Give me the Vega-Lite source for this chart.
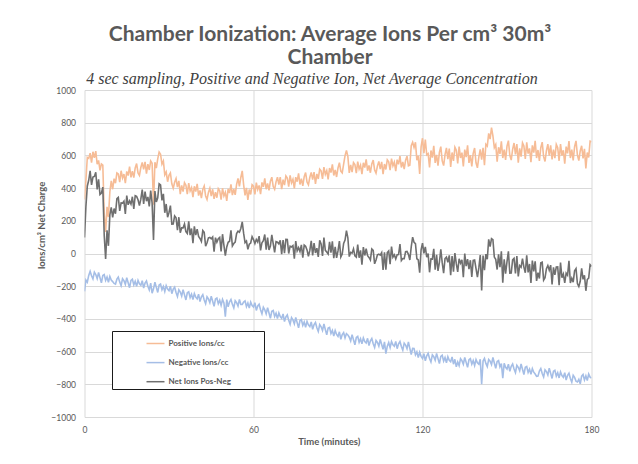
{
  "$schema": "https://vega.github.io/schema/vega-lite/v6.json",
  "width": 507,
  "height": 327,
  "autosize": "none",
  "padding": {"left": 84.5, "top": 90, "right": 46.5, "bottom": 47},
  "background": "#ffffff",
  "title": {
    "text": ["Chamber Ionization: Average Ions Per cm³ 30m³", "Chamber"],
    "subtitle": "4 sec sampling, Positive and Negative Ion, Net Average Concentration\u2800\u2800\u2800",
    "anchor": "middle",
    "frame": "group",
    "dx": -8,
    "font": "Lato",
    "fontSize": 21,
    "fontWeight": "bold",
    "color": "#595959",
    "lineHeight": 23,
    "subtitleFont": "Liberation Serif",
    "subtitleFontStyle": "italic",
    "subtitleFontSize": 16,
    "subtitleColor": "#404040",
    "subtitlePadding": 3,
    "offset": -1
  },
  "data": {"values": [
{"t":0,"p":330,"n":-232,"d":98},{"t":0.5,"p":449,"n":-162,"d":287},{"t":1,"p":588,"n":-175,"d":413},{"t":1.5,"p":582,"n":-134,"d":448},{"t":2,"p":614,"n":-109,"d":505},{"t":2.5,"p":556,"n":-136,"d":420},{"t":3,"p":622,"n":-155,"d":467},{"t":3.5,"p":585,"n":-114,"d":471},{"t":4,"p":626,"n":-129,"d":497},{"t":4.5,"p":546,"n":-154,"d":392},
{"t":5,"p":569,"n":-116,"d":453},{"t":5.5,"p":509,"n":-148,"d":361},{"t":6,"p":548,"n":-179,"d":369},{"t":6.5,"p":541,"n":-135,"d":406},{"t":7,"p":241,"n":-129,"d":112},{"t":7.5,"p":132,"n":-165,"d":-33},{"t":8,"p":286,"n":-144,"d":142},{"t":8.5,"p":223,"n":-176,"d":47},{"t":9,"p":376,"n":-140,"d":236},{"t":9.5,"p":444,"n":-162,"d":282},
{"t":10,"p":393,"n":-172,"d":221},{"t":10.5,"p":458,"n":-183,"d":275},{"t":11,"p":430,"n":-187,"d":243},{"t":11.5,"p":493,"n":-157,"d":336},{"t":12,"p":487,"n":-144,"d":343},{"t":12.5,"p":436,"n":-175,"d":261},{"t":13,"p":506,"n":-197,"d":309},{"t":13.5,"p":462,"n":-154,"d":308},{"t":14,"p":486,"n":-166,"d":320},{"t":14.5,"p":431,"n":-189,"d":242},
{"t":15,"p":502,"n":-148,"d":354},{"t":15.5,"p":477,"n":-179,"d":298},{"t":16,"p":531,"n":-209,"d":322},{"t":16.5,"p":466,"n":-164,"d":302},{"t":17,"p":504,"n":-157,"d":347},{"t":17.5,"p":464,"n":-192,"d":272},{"t":18,"p":523,"n":-170,"d":353},{"t":18.5,"p":550,"n":-201,"d":349},{"t":19,"p":493,"n":-164,"d":329},{"t":19.5,"p":478,"n":-185,"d":293},
{"t":20,"p":526,"n":-194,"d":332},{"t":20.5,"p":557,"n":-166,"d":391},{"t":21,"p":514,"n":-211,"d":303},{"t":21.5,"p":560,"n":-181,"d":379},{"t":22,"p":488,"n":-168,"d":320},{"t":22.5,"p":546,"n":-200,"d":346},{"t":23,"p":511,"n":-223,"d":288},{"t":23.5,"p":566,"n":-181,"d":385},{"t":24,"p":552,"n":-243,"d":309},{"t":24.5,"p":299,"n":-216,"d":83},
{"t":25,"p":558,"n":-176,"d":382},{"t":25.5,"p":522,"n":-207,"d":315},{"t":26,"p":579,"n":-238,"d":341},{"t":26.5,"p":620,"n":-193,"d":427},{"t":27,"p":607,"n":-187,"d":420},{"t":27.5,"p":547,"n":-222,"d":325},{"t":28,"p":566,"n":-201,"d":365},{"t":28.5,"p":481,"n":-232,"d":249},{"t":29,"p":499,"n":-196,"d":303},{"t":29.5,"p":439,"n":-217,"d":222},
{"t":30,"p":478,"n":-227,"d":251},{"t":30.5,"p":493,"n":-200,"d":293},{"t":31,"p":426,"n":-246,"d":180},{"t":31.5,"p":399,"n":-218,"d":181},{"t":32,"p":436,"n":-206,"d":230},{"t":32.5,"p":458,"n":-239,"d":219},{"t":33,"p":406,"n":-263,"d":143},{"t":33.5,"p":444,"n":-222,"d":222},{"t":34,"p":363,"n":-236,"d":127},{"t":34.5,"p":417,"n":-260,"d":157},
{"t":35,"p":378,"n":-221,"d":157},{"t":35.5,"p":433,"n":-253,"d":180},{"t":36,"p":418,"n":-284,"d":134},{"t":36.5,"p":363,"n":-240,"d":123},{"t":37,"p":430,"n":-234,"d":196},{"t":37.5,"p":382,"n":-270,"d":112},{"t":38,"p":402,"n":-249,"d":153},{"t":38.5,"p":344,"n":-281,"d":63},{"t":39,"p":411,"n":-245,"d":166},{"t":39.5,"p":379,"n":-267,"d":112},
{"t":40,"p":426,"n":-277,"d":149},{"t":40.5,"p":354,"n":-249,"d":105},{"t":41,"p":386,"n":-294,"d":92},{"t":41.5,"p":339,"n":-265,"d":74},{"t":42,"p":392,"n":-252,"d":140},{"t":42.5,"p":413,"n":-284,"d":129},{"t":43,"p":352,"n":-307,"d":45},{"t":43.5,"p":331,"n":-265,"d":66},{"t":44,"p":374,"n":-278,"d":96},{"t":44.5,"p":399,"n":-301,"d":98},
{"t":45,"p":351,"n":-261,"d":90},{"t":45.5,"p":393,"n":-292,"d":101},{"t":46,"p":334,"n":-323,"d":11},{"t":46.5,"p":375,"n":-278,"d":97},{"t":47,"p":341,"n":-272,"d":69},{"t":47.5,"p":397,"n":-307,"d":90},{"t":48,"p":384,"n":-286,"d":98},{"t":48.5,"p":330,"n":-317,"d":13},{"t":49,"p":399,"n":-281,"d":118},{"t":49.5,"p":352,"n":-302,"d":50},
{"t":50,"p":374,"n":-387,"d":-13},{"t":50.5,"p":322,"n":-282,"d":40},{"t":51,"p":395,"n":-326,"d":69},{"t":51.5,"p":370,"n":-295,"d":75},{"t":52,"p":423,"n":-281,"d":142},{"t":52.5,"p":357,"n":-311,"d":46},{"t":53,"p":394,"n":-333,"d":61},{"t":53.5,"p":359,"n":-289,"d":70},{"t":54,"p":423,"n":-301,"d":122},{"t":54.5,"p":459,"n":-322,"d":137},
{"t":55,"p":411,"n":-281,"d":130},{"t":55.5,"p":465,"n":-312,"d":153},{"t":56,"p":505,"n":-312,"d":193},{"t":56.5,"p":420,"n":-297,"d":123},{"t":57,"p":356,"n":-290,"d":66},{"t":57.5,"p":401,"n":-325,"d":76},{"t":58,"p":328,"n":-303,"d":25},{"t":58.5,"p":391,"n":-334,"d":57},{"t":59,"p":361,"n":-297,"d":64},{"t":59.5,"p":421,"n":-318,"d":103},
{"t":60,"p":412,"n":-327,"d":85},{"t":60.5,"p":362,"n":-301,"d":61},{"t":61,"p":434,"n":-348,"d":86},{"t":61.5,"p":391,"n":-321,"d":70},{"t":62,"p":416,"n":-310,"d":106},{"t":62.5,"p":363,"n":-344,"d":19},{"t":63,"p":435,"n":-369,"d":66},{"t":63.5,"p":408,"n":-329,"d":79},{"t":64,"p":460,"n":-344,"d":116},{"t":64.5,"p":393,"n":-369,"d":24},
{"t":65,"p":429,"n":-331,"d":98},{"t":65.5,"p":386,"n":-364,"d":22},{"t":66,"p":442,"n":-396,"d":46},{"t":66.5,"p":467,"n":-353,"d":114},{"t":67,"p":409,"n":-348,"d":61},{"t":67.5,"p":392,"n":-385,"d":7},{"t":68,"p":438,"n":-365,"d":73},{"t":68.5,"p":467,"n":-398,"d":69},{"t":69,"p":422,"n":-363,"d":59},{"t":69.5,"p":467,"n":-386,"d":81},
{"t":70,"p":393,"n":-397,"d":-4},{"t":70.5,"p":452,"n":-370,"d":82},{"t":71,"p":418,"n":-416,"d":2},{"t":71.5,"p":475,"n":-388,"d":87},{"t":72,"p":462,"n":-376,"d":86},{"t":72.5,"p":409,"n":-409,"d":0},{"t":73,"p":478,"n":-433,"d":45},{"t":73.5,"p":432,"n":-392,"d":40},{"t":74,"p":454,"n":-406,"d":48},{"t":74.5,"p":398,"n":-430,"d":-32},
{"t":75,"p":467,"n":-391,"d":76},{"t":75.5,"p":439,"n":-423,"d":16},{"t":76,"p":490,"n":-454,"d":36},{"t":76.5,"p":422,"n":-410,"d":12},{"t":77,"p":457,"n":-404,"d":53},{"t":77.5,"p":414,"n":-440,"d":-26},{"t":78,"p":470,"n":-419,"d":51},{"t":78.5,"p":495,"n":-451,"d":44},{"t":79,"p":437,"n":-415,"d":22},{"t":79.5,"p":420,"n":-437,"d":-17},
{"t":80,"p":466,"n":-447,"d":19},{"t":80.5,"p":496,"n":-419,"d":77},{"t":81,"p":452,"n":-464,"d":-12},{"t":81.5,"p":498,"n":-435,"d":63},{"t":82,"p":425,"n":-422,"d":3},{"t":82.5,"p":487,"n":-454,"d":33},{"t":83,"p":456,"n":-477,"d":-21},{"t":83.5,"p":516,"n":-435,"d":81},{"t":84,"p":506,"n":-448,"d":58},{"t":84.5,"p":456,"n":-471,"d":-15},
{"t":85,"p":528,"n":-431,"d":97},{"t":85.5,"p":484,"n":-465,"d":19},{"t":86,"p":507,"n":-498,"d":9},{"t":86.5,"p":453,"n":-456,"d":-3},{"t":87,"p":523,"n":-452,"d":71},{"t":87.5,"p":495,"n":-490,"d":5},{"t":88,"p":545,"n":-471,"d":74},{"t":88.5,"p":477,"n":-505,"d":-28},{"t":89,"p":511,"n":-471,"d":40},{"t":89.5,"p":468,"n":-495,"d":-27},
{"t":90,"p":523,"n":-507,"d":16},{"t":90.5,"p":555,"n":-479,"d":76},{"t":91,"p":504,"n":-525,"d":-21},{"t":91.5,"p":493,"n":-496,"d":-3},{"t":92,"p":546,"n":-484,"d":62},{"t":92.5,"p":598,"n":-516,"d":82},{"t":93,"p":630,"n":-490,"d":140},{"t":93.5,"p":594,"n":-498,"d":96},{"t":94,"p":493,"n":-512,"d":-19},{"t":94.5,"p":542,"n":-535,"d":7},
{"t":95,"p":498,"n":-496,"d":2},{"t":95.5,"p":556,"n":-528,"d":28},{"t":96,"p":544,"n":-558,"d":-14},{"t":96.5,"p":492,"n":-514,"d":-22},{"t":97,"p":562,"n":-507,"d":55},{"t":97.5,"p":517,"n":-543,"d":-26},{"t":98,"p":540,"n":-521,"d":19},{"t":98.5,"p":485,"n":-553,"d":-68},{"t":99,"p":555,"n":-516,"d":39},{"t":99.5,"p":526,"n":-538,"d":-12},
{"t":100,"p":576,"n":-547,"d":29},{"t":100.5,"p":506,"n":-519,"d":-13},{"t":101,"p":539,"n":-563,"d":-24},{"t":101.5,"p":494,"n":-534,"d":-40},{"t":102,"p":548,"n":-520,"d":28},{"t":102.5,"p":571,"n":-552,"d":19},{"t":103,"p":511,"n":-574,"d":-63},{"t":103.5,"p":492,"n":-532,"d":-40},{"t":104,"p":536,"n":-544,"d":-8},{"t":104.5,"p":563,"n":-567,"d":-4},
{"t":105,"p":516,"n":-526,"d":-10},{"t":105.5,"p":561,"n":-556,"d":5},{"t":106,"p":486,"n":-586,"d":-100},{"t":106.5,"p":547,"n":-540,"d":7},{"t":107,"p":514,"n":-613,"d":-99},{"t":107.5,"p":573,"n":-567,"d":6},{"t":108,"p":561,"n":-545,"d":16},{"t":108.5,"p":510,"n":-575,"d":-65},{"t":109,"p":580,"n":-538,"d":42},{"t":109.5,"p":536,"n":-558,"d":-22},
{"t":110,"p":559,"n":-567,"d":-8},{"t":110.5,"p":504,"n":-538,"d":-34},{"t":111,"p":574,"n":-582,"d":-8},{"t":111.5,"p":545,"n":-552,"d":-7},{"t":112,"p":595,"n":-538,"d":57},{"t":112.5,"p":526,"n":-569,"d":-43},{"t":113,"p":560,"n":-591,"d":-31},{"t":113.5,"p":516,"n":-548,"d":-32},{"t":114,"p":571,"n":-560,"d":11},{"t":114.5,"p":595,"n":-582,"d":13},
{"t":115,"p":536,"n":-541,"d":-5},{"t":115.5,"p":540,"n":-580,"d":-40},{"t":116,"p":659,"n":-618,"d":41},{"t":116.5,"p":680,"n":-580,"d":100},{"t":117,"p":649,"n":-581,"d":68},{"t":117.5,"p":680,"n":-620,"d":60},{"t":118,"p":570,"n":-602,"d":-32},{"t":118.5,"p":598,"n":-637,"d":-39},{"t":119,"p":487,"n":-604,"d":-117},{"t":119.5,"p":652,"n":-629,"d":23},
{"t":120,"p":705,"n":-642,"d":63},{"t":120.5,"p":614,"n":-613,"d":1},{"t":121,"p":697,"n":-656,"d":41},{"t":121.5,"p":603,"n":-626,"d":-23},{"t":122,"p":611,"n":-611,"d":0},{"t":122.5,"p":527,"n":-642,"d":-115},{"t":123,"p":630,"n":-663,"d":-33},{"t":123.5,"p":586,"n":-620,"d":-34},{"t":124,"p":659,"n":-631,"d":28},{"t":124.5,"p":554,"n":-653,"d":-99},
{"t":125,"p":603,"n":-611,"d":-8},{"t":125.5,"p":537,"n":-643,"d":-106},{"t":126,"p":619,"n":-673,"d":-54},{"t":126.5,"p":654,"n":-629,"d":25},{"t":127,"p":566,"n":-622,"d":-56},{"t":127.5,"p":538,"n":-658,"d":-120},{"t":128,"p":605,"n":-636,"d":-31},{"t":128.5,"p":646,"n":-668,"d":-22},{"t":129,"p":577,"n":-631,"d":-54},{"t":129.5,"p":642,"n":-653,"d":-11},
{"t":130,"p":530,"n":-662,"d":-132},{"t":130.5,"p":618,"n":-633,"d":-15},{"t":131,"p":566,"n":-677,"d":-111},{"t":131.5,"p":650,"n":-647,"d":3},{"t":132,"p":631,"n":-693,"d":-62},{"t":132.5,"p":551,"n":-664,"d":-113},{"t":133,"p":654,"n":-686,"d":-32},{"t":133.5,"p":584,"n":-643,"d":-59},{"t":134,"p":617,"n":-655,"d":-38},{"t":134.5,"p":532,"n":-677,"d":-145},
{"t":135,"p":635,"n":-636,"d":-1},{"t":135.5,"p":589,"n":-666,"d":-77},{"t":136,"p":661,"n":-696,"d":-35},{"t":136.5,"p":554,"n":-650,"d":-96},{"t":137,"p":602,"n":-643,"d":-41},{"t":137.5,"p":533,"n":-677,"d":-144},{"t":138,"p":613,"n":-655,"d":-42},{"t":138.5,"p":645,"n":-685,"d":-40},{"t":139,"p":555,"n":-648,"d":-93},{"t":139.5,"p":524,"n":-668,"d":-144},
{"t":140,"p":589,"n":-677,"d":-88},{"t":140.5,"p":637,"n":-647,"d":-10},{"t":141,"p":574,"n":-800,"d":-226},{"t":141.5,"p":646,"n":-658,"d":-12},{"t":142,"p":540,"n":-642,"d":-102},{"t":142.5,"p":668,"n":-672,"d":-4},{"t":143,"p":657,"n":-692,"d":-35},{"t":143.5,"p":735,"n":-648,"d":87},{"t":144,"p":700,"n":-658,"d":42},{"t":144.5,"p":770,"n":-679,"d":91},
{"t":145,"p":720,"n":-636,"d":84},{"t":145.5,"p":648,"n":-670,"d":-22},{"t":146,"p":666,"n":-702,"d":-36},{"t":146.5,"p":562,"n":-660,"d":-98},{"t":147,"p":650,"n":-655,"d":-5},{"t":147.5,"p":609,"n":-693,"d":-84},{"t":148,"p":686,"n":-673,"d":13},{"t":148.5,"p":584,"n":-762,"d":-178},{"t":149,"p":636,"n":-672,"d":-36},{"t":149.5,"p":573,"n":-696,"d":-123},
{"t":150,"p":657,"n":-707,"d":-50},{"t":150.5,"p":690,"n":-677,"d":13},{"t":151,"p":601,"n":-721,"d":-120},{"t":151.5,"p":571,"n":-690,"d":-119},{"t":152,"p":637,"n":-676,"d":-39},{"t":152.5,"p":676,"n":-706,"d":-30},{"t":153,"p":606,"n":-728,"d":-122},{"t":153.5,"p":669,"n":-684,"d":-15},{"t":154,"p":556,"n":-696,"d":-140},{"t":154.5,"p":643,"n":-717,"d":-74},
{"t":155,"p":592,"n":-676,"d":-84},{"t":155.5,"p":677,"n":-708,"d":-31},{"t":156,"p":657,"n":-740,"d":-83},{"t":156.5,"p":578,"n":-696,"d":-118},{"t":157,"p":680,"n":-691,"d":-11},{"t":157.5,"p":611,"n":-727,"d":-116},{"t":158,"p":643,"n":-707,"d":-64},{"t":158.5,"p":559,"n":-739,"d":-180},{"t":159,"p":661,"n":-704,"d":-43},{"t":159.5,"p":617,"n":-726,"d":-109},
{"t":160,"p":689,"n":-737,"d":-48},{"t":160.5,"p":584,"n":-752,"d":-168},{"t":161,"p":633,"n":-750,"d":-117},{"t":161.5,"p":566,"n":-719,"d":-153},{"t":162,"p":647,"n":-704,"d":-57},{"t":162.5,"p":681,"n":-734,"d":-53},{"t":163,"p":592,"n":-755,"d":-163},{"t":163.5,"p":563,"n":-711,"d":-148},{"t":164,"p":629,"n":-722,"d":-93},{"t":164.5,"p":669,"n":-743,"d":-74},
{"t":165,"p":599,"n":-701,"d":-102},{"t":165.5,"p":662,"n":-733,"d":-71},{"t":166,"p":575,"n":-764,"d":-189},{"t":166.5,"p":635,"n":-720,"d":-85},{"t":167,"p":583,"n":-714,"d":-131},{"t":167.5,"p":667,"n":-750,"d":-83},{"t":168,"p":647,"n":-729,"d":-82},{"t":168.5,"p":567,"n":-761,"d":-194},{"t":169,"p":669,"n":-725,"d":-56},{"t":169.5,"p":599,"n":-747,"d":-148},
{"t":170,"p":631,"n":-757,"d":-126},{"t":170.5,"p":549,"n":-729,"d":-180},{"t":171,"p":654,"n":-774,"d":-120},{"t":171.5,"p":612,"n":-745,"d":-133},{"t":172,"p":687,"n":-732,"d":-45},{"t":172.5,"p":584,"n":-764,"d":-180},{"t":173,"p":635,"n":-787,"d":-152},{"t":173.5,"p":570,"n":-745,"d":-175},{"t":174,"p":653,"n":-758,"d":-105},{"t":174.5,"p":689,"n":-781,"d":-92},
{"t":175,"p":602,"n":-786,"d":-184},{"t":175.5,"p":568,"n":-770,"d":-202},{"t":176,"p":627,"n":-797,"d":-170},{"t":176.5,"p":659,"n":-750,"d":-91},{"t":177,"p":582,"n":-740,"d":-158},{"t":177.5,"p":640,"n":-773,"d":-133},{"t":178,"p":520,"n":-748,"d":-228},{"t":178.5,"p":618,"n":-777,"d":-159},{"t":179,"p":587,"n":-737,"d":-150},{"t":179.5,"p":687,"n":-756,"d":-69},
{"t":180,"p":683,"n":-762,"d":-79}
  ]},
  "encoding": {
    "x": {
      "field": "t", "type": "quantitative",
      "scale": {"domain": [0, 180], "nice": false, "zero": false},
      "axis": {"values": [0, 60, 120, 180], "title": "Time (minutes)", "labelPadding": 8, "labelFlush": false, "labelOverlap": false}
    }
  },
  "layer": [
    {
      "mark": {"type": "line", "strokeWidth": 1.6, "clip": true},
      "encoding": {
        "y": {"field": "p", "type": "quantitative", "title": "Ions/cm³ Net Charge",
              "scale": {"domain": [-1000, 1000], "nice": false, "zero": false},
              "axis": {"values": [-1000, -800, -600, -400, -200, 0, 200, 400, 600, 800, 1000], "format": "d", "labelPadding": 9, "labelFlush": false, "labelOverlap": false}},
        "color": {
          "datum": "Positive Ions/cc",
          "scale": {"domain": ["Positive Ions/cc", "Negative Ions/cc", "Net Ions Pos-Neg"], "range": ["#F6BC96", "#A5BEE6", "#6F6F6F"]},
          "legend": {
            "orient": "none", "legendX": 27.5, "legendY": 241, "direction": "vertical", "title": null,
            "padding": 2.5, "symbolOffset": 31, "symbolType": "stroke", "symbolSize": 324, "symbolStrokeWidth": 1.5,
            "labelOffset": 3, "rowPadding": 5.1,
            "labelFont": "Lato", "labelFontSize": 8, "labelFontWeight": "bold", "labelColor": "#595959",
            "strokeColor": "#1a1a1a", "fillColor": "#ffffff",
            "labelExpr": "datum.label + '\u2800\u2800\u2800\u2800\u2800'"
          }
        }
      }
    },
    {
      "mark": {"type": "line", "strokeWidth": 1.6, "clip": true},
      "encoding": {
        "y": {"field": "n", "type": "quantitative", "title": "Ions/cm³ Net Charge",
              "axis": {"values": [-1000, -800, -600, -400, -200, 0, 200, 400, 600, 800, 1000], "format": "d", "labelPadding": 9, "labelFlush": false, "labelOverlap": false}},
        "color": {"datum": "Negative Ions/cc"}
      }
    },
    {
      "mark": {"type": "line", "strokeWidth": 1.6, "clip": true},
      "encoding": {
        "y": {"field": "d", "type": "quantitative", "title": "Ions/cm³ Net Charge",
              "axis": {"values": [-1000, -800, -600, -400, -200, 0, 200, 400, 600, 800, 1000], "format": "d", "labelPadding": 9, "labelFlush": false, "labelOverlap": false}},
        "color": {"datum": "Net Ions Pos-Neg"}
      }
    }
  ],
  "config": {
    "view": {"stroke": null},
    "axis": {
      "grid": true, "gridColor": "#D9D9D9", "gridWidth": 1, "domain": false, "ticks": false, "tickSize": 0,
      "labelFont": "Lato", "labelFontSize": 8.5, "labelColor": "#595959",
      "titleFont": "Lato", "titleFontSize": 9.5, "titleFontWeight": "bold", "titleColor": "#595959"
    },
    "axisY": {"titleX": -40.5, "titleY": 135, "titleAngle": -90, "titleBaseline": "alphabetic", "titleAlign": "center", "titleAnchor": null},
    "axisX": {"titleX": 244.3, "titleY": 27.5, "titleBaseline": "alphabetic", "titleAlign": "center", "titleAnchor": null}
  }
}
